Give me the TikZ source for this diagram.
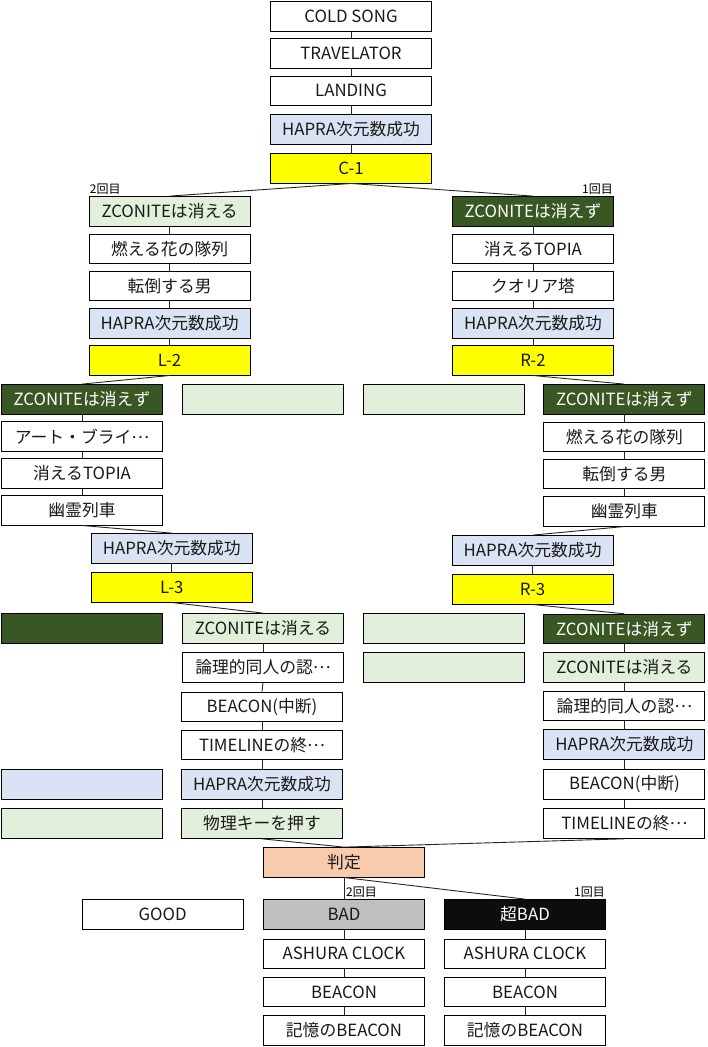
\documentclass[tikz,border=0pt]{standalone}
\usepackage{fontspec}
\setmainfont{Noto Sans CJK JP}
\newcommand{\fwell}{\raisebox{0.3em}{…}}
\definecolor{lblue}{HTML}{DAE3F3}
\definecolor{lgreen}{HTML}{E2EFDA}
\definecolor{dgreen}{HTML}{385723}
\definecolor{lorange}{HTML}{F8CBAD}
\definecolor{lgray}{HTML}{BFBFBF}
\definecolor{nblack}{HTML}{0D0D0D}
\definecolor{yel}{HTML}{FFFF00}
\tikzset{
  box/.style={draw=black, line width=0.9pt, fill=white, minimum width=161pt, minimum height=29.5pt, inner sep=0pt, font=\fontsize{16.8}{18}\selectfont, text=black!90},
  bl/.style={box, fill=lblue},
  gr/.style={box, fill=lgreen},
  dg/.style={box, fill=dgreen, text=white},
  ye/.style={box, fill=yel},
  conn/.style={draw=black!85, line width=0.9pt},
  lbl/.style={inner sep=1pt, font=\fontsize{12}{13}\selectfont}
}
\begin{document}
\begin{tikzpicture}[x=1pt,y=-1pt]
\useasboundingbox (0,0) rectangle (707,1047);
% top column
\node[box] (cs) at (351,16.5) {COLD SONG};
\node[box] (tr) at (351,53.3) {TRAVELATOR};
\node[box] (la) at (351,90.8) {LANDING};
\node[bl] (h0) at (351,129.3) {HAPRA次元数成功};
\node[ye] (c1) at (351,168.3) {C-1};
% left column
\node[gr] (l1) at (169.6,211.3) {ZCONITEは消える};
\node[box] (l2) at (169.6,248.7) {燃える花の隊列};
\node[box] (l3) at (169.6,286) {転倒する男};
\node[bl] (l4) at (169.6,323.4) {HAPRA次元数成功};
\node[ye] (l5) at (169.6,360.3) {L-2};
% right column
\node[dg] (r1) at (533,211.3) {ZCONITEは消えず};
\node[box] (r2) at (533,248.7) {消えるTOPIA};
\node[box] (r3) at (533,286) {クオリア塔};
\node[bl] (r4) at (533,323.4) {HAPRA次元数成功};
\node[ye] (r5) at (533,360.3) {R-2};
% row 3
\node[dg] (fl1) at (82,399.3) {ZCONITEは消えず};
\node[gr] (ml0) at (263,399.3) {};
\node[gr] (mr0) at (443.5,399.3) {};
\node[dg] (fr1) at (624.4,399.3) {ZCONITEは消えず};
\node[box] (fl2) at (82,436.3) {アート・ブライ\fwell};
\node[box] (fl3) at (82,473.3) {消えるTOPIA};
\node[box] (fl4) at (82,510.3) {幽霊列車};
\node[box] (fr2) at (624.4,436.8) {燃える花の隊列};
\node[box] (fr3) at (624.4,473.8) {転倒する男};
\node[box] (fr4) at (624.4,511.3) {幽霊列車};
\node[bl] (lh) at (171.8,548.3) {HAPRA次元数成功};
\node[ye] (l6) at (171.8,587.3) {L-3};
\node[bl] (rh) at (532.6,550.3) {HAPRA次元数成功};
\node[ye] (r6) at (532.6,589.3) {R-3};
% lower rows
\node[dg] (flA) at (82,628.3) {};
\node[gr] (mA) at (263,628.3) {ZCONITEは消える};
\node[gr] (mrA) at (443.5,628.3) {};
\node[dg] (frA) at (624.4,629) {ZCONITEは消えず};
\node[box] (mB) at (263,667.3) {論理的同人の認\fwell};
\node[gr] (mrB) at (443.5,667.3) {};
\node[gr] (frB) at (624.4,667.3) {ZCONITEは消える};
\node[box] (mC) at (262,706.8) {BEACON(中断)};
\node[box] (frC) at (624.4,705.7) {論理的同人の認\fwell};
\node[box] (mD) at (262,745) {TIMELINEの終\fwell};
\node[bl] (frD) at (624.4,744.3) {HAPRA次元数成功};
\node[bl] (flE) at (82,784.3) {};
\node[bl] (mE) at (262,784.3) {HAPRA次元数成功};
\node[box] (frE) at (624.4,784.3) {BEACON(中断)};
\node[gr] (flF) at (82,823.6) {};
\node[gr] (mF) at (262,823.6) {物理キーを押す};
\node[box] (frF) at (624.4,823.6) {TIMELINEの終\fwell};
% judgement
\node[box, fill=lorange] (ju) at (344,862.3) {判定};
\node[box] (good) at (162.7,914.3) {GOOD};
\node[box, fill=lgray] (bad) at (344,914.3) {BAD};
\node[box, fill=nblack, text=white] (sbad) at (525,914.3) {超BAD};
\node[box] (b1) at (344,953.7) {ASHURA CLOCK};
\node[box] (b2) at (344,992) {BEACON};
\node[box] (b3) at (344,1030.3) {記憶のBEACON};
\node[box] (s1) at (525,953.7) {ASHURA CLOCK};
\node[box] (s2) at (525,992) {BEACON};
\node[box] (s3) at (525,1030.3) {記憶のBEACON};
% labels
\node[lbl, anchor=south west] (t2) at (l1.north west) {2回目};
\node[lbl, anchor=south east] (t1) at (r1.north east) {1回目};
\node[lbl, anchor=south west] (u2) at ([xshift=1pt]bad.north) {2回目};
\node[lbl, anchor=south east] (u1) at (sbad.north east) {1回目};
% connectors
\draw[conn] (cs) -- (tr); \draw[conn] (tr) -- (la); \draw[conn] (la) -- (h0); \draw[conn] (h0) -- (c1);
\draw[conn] (c1.south) -- (l1.north); \draw[conn] (c1.south) -- (r1.north);
\draw[conn] (l1) -- (l2); \draw[conn] (l2) -- (l3); \draw[conn] (l3) -- (l4); \draw[conn] (l4) -- (l5);
\draw[conn] (r1) -- (r2); \draw[conn] (r2) -- (r3); \draw[conn] (r3) -- (r4); \draw[conn] (r4) -- (r5);
\draw[conn] (l5.south) -- (fl1.north);
\draw[conn] (r5.south) -- (fr1.north);
\draw[conn] (fl1) -- (fl2); \draw[conn] (fl2) -- (fl3); \draw[conn] (fl3) -- (fl4);
\draw[conn] (fr1) -- (fr2); \draw[conn] (fr2) -- (fr3); \draw[conn] (fr3) -- (fr4);
\draw[conn] (fl4.south) -- (lh.north); \draw[conn] (lh) -- (l6);
\draw[conn] (fr4.south) -- (rh.north); \draw[conn] (rh) -- (r6);
\draw[conn] (l6.south) -- (mA.north);
\draw[conn] (mA.south) -- (mB.north); \draw[conn] (mB.south) -- (mC.north); \draw[conn] (mC) -- (mD); \draw[conn] (mD) -- (mE); \draw[conn] (mE) -- (mF);
\draw[conn] (r6.south) -- (frA.north);
\draw[conn] (frA) -- (frB); \draw[conn] (frB) -- (frC); \draw[conn] (frC) -- (frD); \draw[conn] (frD) -- (frE); \draw[conn] (frE) -- (frF);
\draw[conn] (mF.south) -- (ju.north);
\draw[conn] (frF.south) -- (ju.north);
\draw[conn] (ju.south) -- (bad.north);
\draw[conn] (ju.south) -- (sbad.north);
\draw[conn] (bad) -- (b1); \draw[conn] (b1) -- (b2); \draw[conn] (b2) -- (b3);
\draw[conn] (sbad) -- (s1); \draw[conn] (s1) -- (s2); \draw[conn] (s2) -- (s3);
\end{tikzpicture}
\end{document}
